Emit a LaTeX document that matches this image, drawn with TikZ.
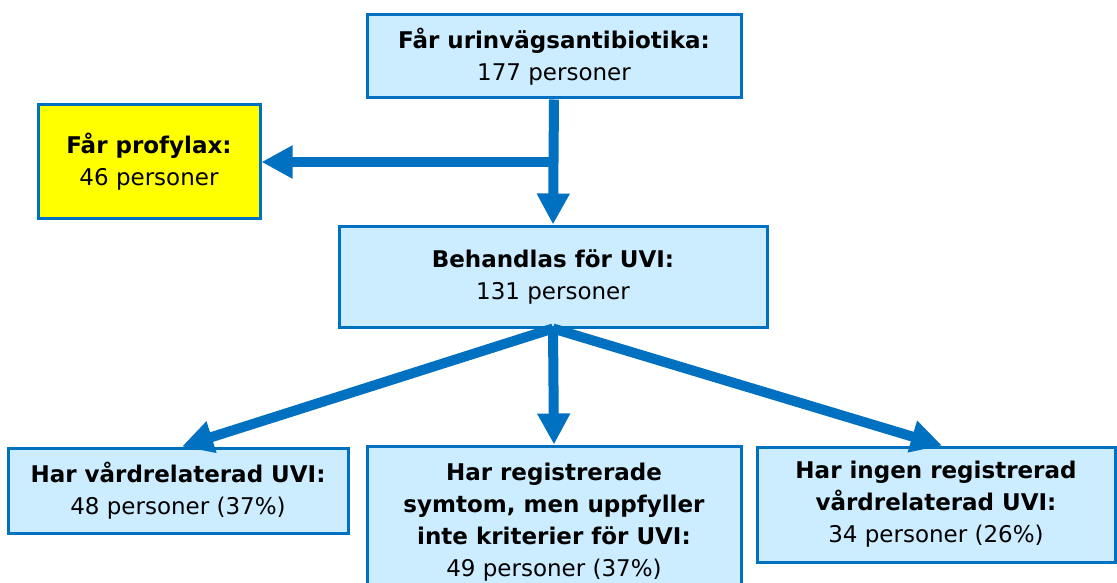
\documentclass[tikz,border=0pt]{standalone}
\usepackage{fontspec}
\setmainfont{DejaVu Sans}
\usetikzlibrary{arrows.meta}
\definecolor{boxblue}{RGB}{0,112,192}
\definecolor{boxfill}{RGB}{204,236,255}
\definecolor{yel}{RGB}{255,255,0}
\tikzset{
  box/.style={draw=boxblue, line width=3pt, fill=boxfill, align=center, inner sep=0pt,
    font=\fontsize{23}{32}\selectfont},
  arr/.style={draw=boxblue, line width=10pt, -{Triangle[length=31pt,width=31pt]}},
}
\begin{document}
\begin{tikzpicture}[x=1pt,y=-1pt]
\useasboundingbox (0,0) rectangle (1117,583);
\clip (0,0) rectangle (1117,583);
\node[box, minimum width=374pt, minimum height=83pt] (top) at (554,56.5)
  {\textbf{Får urinvägsantibiotika:}\\177 personer};
\node[box, fill=yel, minimum width=222pt, minimum height=113pt] (prof) at (149,161.5)
  {\textbf{Får profylax:}\\46 personer};
\node[box, minimum width=428pt, minimum height=101pt] (beh) at (553,276.5)
  {\textbf{Behandlas för UVI:}\\131 personer};
\node[box, minimum width=340pt, minimum height=85pt] (bl) at (178,490.5)
  {\textbf{Har vårdrelaterad UVI:}\\48 personer (37\%)};
\node[box, minimum width=374pt, minimum height=153pt] (bm) at (554,522.5)
  {\textbf{Har registrerade}\\\textbf{symtom, men uppfyller}\\\textbf{inte kriterier för UVI:}\\49 personer (37\%)};
\node[box, minimum width=358pt, minimum height=115pt] (br) at (936,504.5)
  {\textbf{Har ingen registrerad}\\\textbf{vårdrelaterad UVI:}\\34 personer (26\%)};
\coordinate (j) at (554,162);
\draw[arr] (top.south) -- (beh.north);
\draw[arr] (j) -- (j -| prof.east);
\draw[arr] (beh.south) -- ([xshift=4pt]bl.north);
\draw[arr] (beh.south) -- (bm.north);
\draw[arr] (beh.south) -- ([xshift=6pt]br.north);
\end{tikzpicture}
\end{document}
